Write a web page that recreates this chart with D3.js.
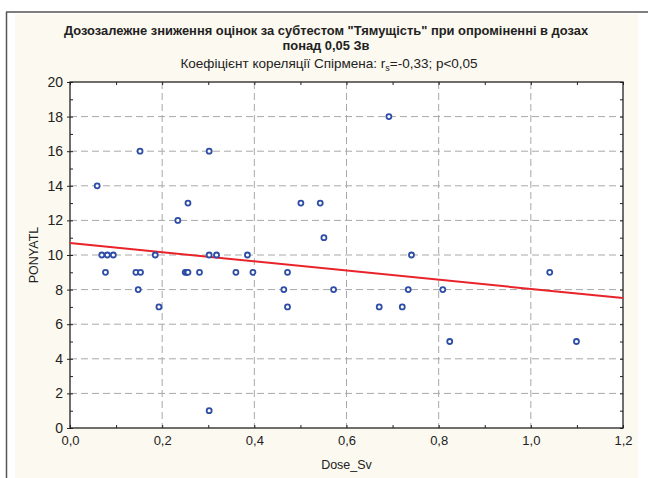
<!DOCTYPE html>
<html>
<head>
<meta charset="utf-8">
<script src="https://cdn.jsdelivr.net/npm/d3@7"></script>
<style>
  body { margin: 0; background: #fff; }
  text { font-family: "Liberation Sans", Arial, sans-serif; fill: #222; }
</style>
</head>
<body>
<div id="chart"></div>
<script>
// dose (Sv) and PONYATL score
const dose = [0.059, 0.152, 0.302, 0.234, 0.256, 0.692, 0.501, 0.543, 0.551,
  0.069, 0.081, 0.094, 0.185, 0.302, 0.318, 0.385, 0.741,
  0.077, 0.143, 0.153, 0.250, 0.253, 0.256, 0.281, 0.360, 0.397, 0.472, 1.041,
  0.148, 0.464, 0.572, 0.734, 0.809,
  0.193, 0.472, 0.671, 0.721,
  0.824, 1.099,
  0.302];
const score = [14, 16, 16, 12, 13, 18, 13, 13, 11,
  10, 10, 10, 10, 10, 10, 10, 10,
  9, 9, 9, 9, 9, 9, 9, 9, 9, 9, 9,
  8, 8, 8, 8, 8,
  7, 7, 7, 7,
  5, 5,
  1];
// linear fit
const fitIntercept = 10.69;
const fitSlope = -2.65;

const xTicks = [0, 0.2, 0.4, 0.6, 0.8, 1.0, 1.2];
const yTicks = [0, 2, 4, 6, 8, 10, 12, 14, 16, 18, 20];

const W = 648, H = 478;
const margin = {top: 82, right: 25, bottom: 50, left: 70};
const width = W - margin.left - margin.right;
const height = H - margin.top - margin.bottom;

const svg = d3.select("#chart").append("svg")
    .attr("width", W).attr("height", H);

// outer frame + cream panel
svg.append("rect").attr("x", 15).attr("y", 14).attr("width", 623).attr("height", 464).attr("fill", "#fcf9f0");
svg.append("line").attr("x1", 6).attr("x2", W).attr("y1", 12).attr("y2", 12)
    .attr("stroke", "#555").attr("stroke-width", 1.5);
svg.append("line").attr("x1", 6.5).attr("x2", 6.5).attr("y1", 12).attr("y2", H)
    .attr("stroke", "#555").attr("stroke-width", 1.5);

let x = d3.scaleLinear().domain([0, 1.2]).range([0, width]);
let y = d3.scaleLinear().domain([0, 20]).range([height, 0]);

let g = svg.append("g").attr("transform", "translate(" + margin.left + "," + margin.top + ")");

g.append("rect").attr("width", width).attr("height", height).attr("fill", "#fff");

// grid
g.append("g").selectAll("line").data(xTicks.slice(1, -1)).join("line")
    .attr("x1", d => x(d)).attr("x2", d => x(d)).attr("y1", 0).attr("y2", height)
    .attr("stroke", "#a8a8a8").attr("stroke-dasharray", "7,4");
g.append("g").selectAll("line").data(yTicks.slice(1, -1)).join("line")
    .attr("y1", d => y(d)).attr("y2", d => y(d)).attr("x1", 0).attr("x2", width)
    .attr("stroke", "#a8a8a8").attr("stroke-dasharray", "7,4");

// axes, ticks pointing inward
const xMinor = d3.range(0, 1.21, 0.1);
const yMinor = d3.range(0, 20.1, 1);
function styleAxis(a, fs) {
  a.select(".domain").remove();
  a.selectAll(".tick line").attr("stroke", "#222");
  a.selectAll(".tick text").style("font-size", fs).attr("fill", "#222");
}
let xb = g.append("g").attr("transform", "translate(0," + height + ")")
    .call(d3.axisBottom(x).tickValues(xMinor).tickSize(-3).tickFormat(d => {
      let r = Math.round(d * 10);
      return r % 2 === 0 ? d3.format(".1f")(d).replace(".", ",") : "";
    }).tickPadding(8));
styleAxis(xb, "13px");
let xt = g.append("g").call(d3.axisTop(x).tickValues(xMinor).tickSize(-3).tickFormat(""));
styleAxis(xt, "13px");
let yl = g.append("g")
    .call(d3.axisLeft(y).tickValues(yMinor).tickSize(-3).tickFormat(d => d % 2 === 0 ? d : "").tickPadding(7));
styleAxis(yl, "14px");
yl.selectAll(".tick line").attr("x1", d => d % 2 === 0 ? -3 : 0).attr("x2", 3);
let yr = g.append("g").attr("transform", "translate(" + width + ",0)")
    .call(d3.axisRight(y).tickValues(yMinor).tickSize(-3).tickFormat(""));
styleAxis(yr, "13px");

g.append("rect").attr("width", width).attr("height", height)
    .attr("fill", "none").attr("stroke", "#222").attr("stroke-width", 1.3);

// fitted line
g.append("line")
    .attr("x1", x(0)).attr("y1", y(fitIntercept))
    .attr("x2", x(1.2)).attr("y2", y(fitIntercept + fitSlope * 1.2))
    .attr("stroke", "#e8232a").attr("stroke-width", 2);

// points
g.append("g").selectAll("circle").data(dose).join("circle")
    .attr("cx", d => x(d)).attr("cy", (d, i) => y(score[i]))
    .attr("r", 2.5).attr("fill", "#fff")
    .attr("stroke", "#2d4da6").attr("stroke-width", 1.8);

// titles
svg.append("text").attr("x", 326).attr("y", 35).attr("text-anchor", "middle")
    .style("font-size", "12.9px").style("font-weight", "bold")
    .text("Дозозалежне зниження оцінок за субтестом \"Тямущість\" при опроміненні в дозах");
svg.append("text").attr("x", 326).attr("y", 50).attr("text-anchor", "middle")
    .style("font-size", "12.9px").style("font-weight", "bold")
    .text("понад 0,05 Зв");
let sub = svg.append("text").attr("x", 329).attr("y", 68).attr("text-anchor", "middle")
    .style("font-size", "13.5px");
sub.append("tspan").text("Коефіцієнт кореляції  Спірмена: r");
sub.append("tspan").attr("dy", 3).style("font-size", "9px").text("s");
sub.append("tspan").attr("dy", -3).text("=-0,33; p<0,05");

svg.append("text").attr("x", margin.left + width / 2).attr("y", 469).attr("text-anchor", "middle")
    .style("font-size", "12.5px").text("Dose_Sv");
svg.append("text").attr("transform", "translate(38," + (margin.top + height / 2) + ") rotate(-90)")
    .attr("text-anchor", "middle").style("font-size", "12.5px").text("PONYATL");
</script>
</body>
</html>
